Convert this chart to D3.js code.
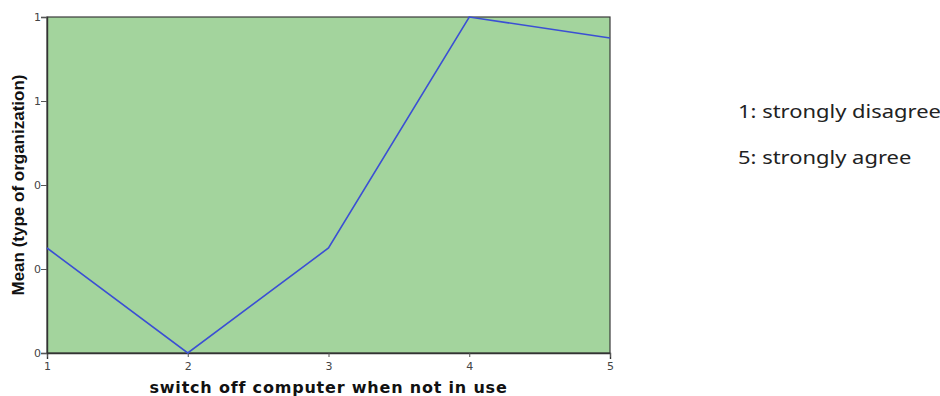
<!DOCTYPE html>
<html>
<head>
<meta charset="utf-8">
<script src="https://cdn.jsdelivr.net/npm/d3@7"></script>
<style>
body { margin: 0; background: #fff; }
svg { display: block; }
</style>
</head>
<body>
<svg id="chart"></svg>
<script>
// answers on the 1..5 scale and the mean for each
const categories = [1, 2, 3, 4, 5];
const meanValues = [0.25, 0.0, 0.25, 0.8, 0.75];
const yTickValues = [0, 0.2, 0.4, 0.6, 0.8];
const yTickLabels = ['0', '0', '0', '1', '1'];
const legendLines = ['1: strongly disagree', '5: strongly agree'];

const width = 940, height = 396;
const margin = {left: 47, right: 330, top: 17, bottom: 43};

const svg = d3.select('#chart')
    .attr('width', width)
    .attr('height', height);

const xScale = d3.scaleLinear()
    .domain([1, 5])
    .range([margin.left, width - margin.right]);
const yScale = d3.scaleLinear()
    .domain([0, 0.8])
    .range([height - margin.bottom, margin.top]);

// green plot background
svg.append('rect')
    .attr('x', xScale(1))
    .attr('y', yScale(0.8))
    .attr('width', xScale(5) - xScale(1))
    .attr('height', yScale(0) - yScale(0.8))
    .attr('fill', '#a3d49d')
    .attr('stroke', '#3a3a3a')
    .attr('stroke-width', 1.2);

let xAxis = d3.axisBottom(xScale)
    .tickValues(categories)
    .tickSize(6)
    .tickFormat(d3.format('d'));
let yAxis = d3.axisLeft(yScale)
    .tickValues(yTickValues)
    .tickSize(6)
    .tickFormat((d, i) => yTickLabels[i]);

let gx = svg.append('g').classed('x-axis', true)
    .attr('transform', 'translate(0,' + yScale(0) + ')')
    .call(xAxis);
let gy = svg.append('g').classed('y-axis', true)
    .attr('transform', 'translate(' + xScale(1) + ',0)')
    .call(yAxis);

[gx, gy].forEach(g => {
    g.select('.domain').attr('stroke', '#333').attr('stroke-width', 1.4);
    g.selectAll('.tick line').attr('stroke', '#555');
    g.selectAll('.tick text')
        .attr('fill', '#444')
        .style('font-family', 'DejaVu Sans')
        .style('font-size', '11px');
});
gx.selectAll('.tick line').attr('y2', 4);
gx.selectAll('.tick text').attr('y', 9);
gy.selectAll('.tick text').attr('x', -6);

const line = d3.line()
    .x((d, i) => xScale(categories[i]))
    .y(d => yScale(d));

svg.append('path')
    .datum(meanValues)
    .attr('fill', 'none')
    .attr('stroke', '#3b4fd4')
    .attr('stroke-width', 1.6)
    .attr('d', line);

svg.append('text')
    .attr('x', (xScale(1) + xScale(5)) / 2)
    .attr('y', 393)
    .attr('text-anchor', 'middle')
    .style('font-family', 'DejaVu Sans')
    .style('font-weight', 'bold')
    .style('font-size', '16px')
    .style('letter-spacing', '0.8px')
    .attr('fill', '#111')
    .text('switch off computer when not in use');

svg.append('text')
    .attr('transform', 'translate(24,' + ((yScale(0) + yScale(0.8)) / 2) + ') rotate(-90)')
    .attr('text-anchor', 'middle')
    .style('font-family', 'Liberation Sans Narrow, Liberation Sans')
    .style('font-weight', 'bold')
    .style('font-size', '17px')
    .attr('fill', '#111')
    .text('Mean (type of organization)');

// legend text looks horizontally stretched in the original
svg.append('g')
    .attr('transform', 'translate(738,0) scale(1.22,1)')
    .selectAll('text')
    .data(legendLines)
    .enter().append('text')
    .attr('x', 0)
    .attr('y', (d, i) => 118 + i * 46)
    .style('font-family', 'Noto Sans')
    .style('font-size', '18px')
    .attr('fill', '#222')
    .text(d => d);
</script>
</body>
</html>
